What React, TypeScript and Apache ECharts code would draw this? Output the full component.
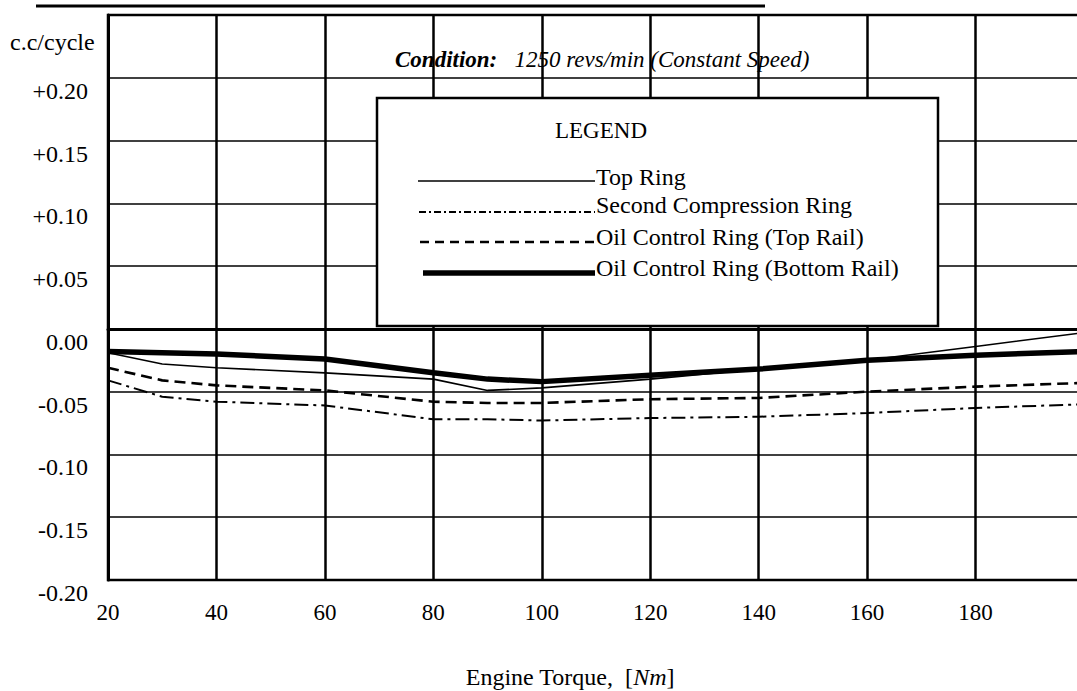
import React, { useEffect, useRef } from "react";
import * as echarts from "echarts";

// Engine torque (Nm) at which values were read
const torque = [20, 30, 40, 60, 80, 90, 100, 120, 140, 160, 180, 200];
// c.c/cycle
const topRing = [-0.019, -0.028, -0.031, -0.035, -0.040, -0.049, -0.047, -0.040, -0.032, -0.025, -0.014, -0.003];
const secondRing = [-0.041, -0.054, -0.058, -0.061, -0.072, -0.072, -0.073, -0.071, -0.070, -0.067, -0.063, -0.060];
const oilTopRail = [-0.031, -0.041, -0.045, -0.049, -0.058, -0.059, -0.059, -0.056, -0.055, -0.050, -0.046, -0.043];
const oilBottomRail = [-0.018, -0.019, -0.020, -0.024, -0.035, -0.040, -0.042, -0.037, -0.032, -0.025, -0.021, -0.018];

const seriesNames = [
  "Top Ring",
  "Second Compression Ring",
  "Oil Control Ring (Top Rail)",
  "Oil Control Ring (Bottom Rail)",
];
const yUnit = "c.c/cycle";
const xTitle = "Engine Torque,";
const xUnit = "Nm";
const conditionLabel = "Condition:";
const conditionText = "1250 revs/min (Constant Speed)";

const FONT = "'Liberation Serif', 'Times New Roman', serif";

const lineStyles = [
  { width: 1.6, type: "solid" as any },
  { width: 2, type: [14, 5, 3, 5] as any },
  { width: 2.6, type: [11, 6] as any },
  { width: 5.5, type: "solid" as any },
];
const legendDash = [undefined, [7, 3, 2, 3], [9, 6], undefined];

export default function App() {
  const ref = useRef<HTMLDivElement>(null);
  useEffect(() => {
    if (!ref.current) return;
    const chart = echarts.init(ref.current, null, { renderer: "svg" });
    const datasets = [topRing, secondRing, oilTopRail, oilBottomRail];

    const legendX = 377, legendY = 98, legendW = 561, legendH = 228;
    const lineYs = [181, 212, 242, 273];
    const textYs = [177, 205, 237, 268];
    const graphic: any[] = [
      {
        type: "line",
        shape: { x1: 36, y1: 6, x2: 765, y2: 6 },
        style: { stroke: "#000", lineWidth: 3 },
      },
      {
        type: "text",
        x: 10,
        y: 42,
        style: { text: yUnit, fontSize: 24, fontFamily: FONT, fill: "#000", verticalAlign: "middle" },
      },
      {
        type: "text",
        x: 395,
        y: 59,
        style: {
          text: `{b|${conditionLabel}}{i|   ${conditionText}}`,
          verticalAlign: "middle",
          rich: {
            b: { fontSize: 23, fontFamily: FONT, fontStyle: "italic", fontWeight: "bold", fill: "#000" },
            i: { fontSize: 23, fontFamily: FONT, fontStyle: "italic", fill: "#000" },
          },
        },
      },
      {
        type: "text",
        x: 570,
        y: 677,
        style: {
          text: `{n|${xTitle}  [}{i|${xUnit}}{n|]}`,
          align: "center",
          verticalAlign: "middle",
          rich: {
            n: { fontSize: 24, fontFamily: FONT, fill: "#000" },
            i: { fontSize: 24, fontFamily: FONT, fontStyle: "italic", fill: "#000" },
          },
        },
      },
      {
        type: "rect",
        shape: { x: legendX, y: legendY, width: legendW, height: legendH },
        style: { fill: "#fff", stroke: "#000", lineWidth: 2.5 },
        z: 10,
      },
      {
        type: "text",
        x: 601,
        y: 130,
        z: 11,
        style: { text: "LEGEND", fontSize: 23, fontFamily: FONT, fill: "#000", align: "center", verticalAlign: "middle" },
      },
    ];
    seriesNames.forEach((name, i) => {
      graphic.push({
        type: "line",
        z: 11,
        shape: { x1: 418 + (i === 3 ? 5 : i), y1: lineYs[i], x2: 595, y2: lineYs[i] },
        style: { stroke: "#000", lineWidth: lineStyles[i].width, lineDash: legendDash[i] },
      });
      graphic.push({
        type: "text",
        z: 11,
        x: 596,
        y: textYs[i],
        style: { text: name, fontSize: 24, fontFamily: FONT, fill: "#000", verticalAlign: "middle" },
      });
    });

    chart.setOption({
      animation: false,
      backgroundColor: "#fff",
      grid: {
        left: 108,
        top: 15,
        width: 976,
        height: 565,
        show: true,
        borderColor: "#000",
        borderWidth: 2.5,
        containLabel: false,
      },
      xAxis: {
        type: "value",
        min: 20,
        max: 200,
        interval: 20,
        axisLine: { show: true, lineStyle: { color: "#000", width: 3 } },
        axisTick: { show: false },
        splitLine: { show: true, lineStyle: { color: "#000", width: 2.5 } },
        axisLabel: {
          showMaxLabel: false,
          margin: 21,
          fontSize: 23,
          fontFamily: FONT,
          color: "#000",
        },
      },
      yAxis: {
        type: "value",
        min: -0.2,
        max: 0.25,
        interval: 0.05,
        axisLine: { show: true, lineStyle: { color: "#000", width: 3 } },
        axisTick: { show: false },
        splitLine: { show: true, lineStyle: { color: "#000", width: 1.6 } },
        axisLabel: {
          showMaxLabel: false,
          margin: 20,
          fontSize: 24,
          fontFamily: FONT,
          color: "#000",
          verticalAlign: "top",
          lineHeight: 26,
          formatter: (v: number) => {
            const r = Math.round(v * 100) / 100;
            return r > 0 ? "+" + r.toFixed(2) : (r === 0 ? "0.00" : r.toFixed(2));
          },
        },
      },
      series: seriesNames.map((name, i) => ({
        name,
        type: "line",
        data: torque.map((t, k) => [t, datasets[i][k]]),
        symbol: "none",
        smooth: false,
        lineStyle: { color: "#000", width: lineStyles[i].width, type: lineStyles[i].type },
        z: 3,
      })),
      graphic,
    });
    return () => chart.dispose();
  }, []);

  return (
    <div style={{ position: "absolute", left: 0, top: 0, width: 1077, height: 691, overflow: "hidden", background: "#fff" }}>
      <div ref={ref} style={{ width: 1100, height: 691 }} />
    </div>
  );
}
